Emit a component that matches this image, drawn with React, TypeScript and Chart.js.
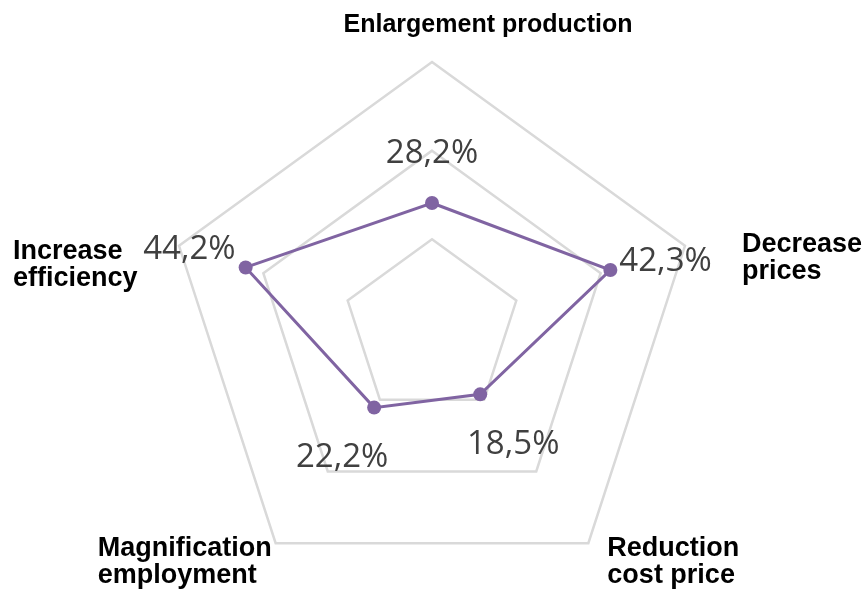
import { useEffect, useRef } from "react";
import { Chart, registerables } from "chart.js";

Chart.register(...registerables);

const categories: string[][] = [
  ["Enlargement production"],
  ["Decrease", "prices"],
  ["Reduction", "cost price"],
  ["Magnification", "employment"],
  ["Increase", "efficiency"],
];
const values = [28.2, 42.3, 18.5, 22.2, 44.2];
const valueLabels = ["28,2%", "42,3%", "18,5%", "22,2%", "44,2%"];
const scaleMin = 0;
const scaleMax = 60;
const scaleStep = 20;

// text placement (offsets from the axis end / data point)
const catLayout = [
  { align: "center", dx: 56, dy: -30, size: 25 },
  { align: "left", dx: 57, dy: 6, size: 27 },
  { align: "left", dx: 19, dy: 13, size: 27 },
  { align: "left", dx: -178, dy: 13, size: 27 },
  { align: "left", dx: -166, dy: 13, size: 27 },
];
const valLayout = [
  { align: "center", dx: 0, dy: -40 },
  { align: "left", dx: 9, dy: 1 },
  { align: "center", dx: 33, dy: 60 },
  { align: "center", dx: -32, dy: 59 },
  { align: "right", dx: -10, dy: -8 },
];

const labelPlugin = {
  id: "customLabels",
  afterDatasetsDraw(chart: any) {
    const ctx = chart.ctx;
    const scale = chart.scales.r;
    const meta = chart.getDatasetMeta(0);
    ctx.save();
    ctx.textBaseline = "alphabetic";
    ctx.fillStyle = "#000000";
    categories.forEach((lines, i) => {
      const p = scale.getPointPosition(i, scale.drawingArea);
      const o = catLayout[i];
      ctx.font = `bold ${o.size}px 'Liberation Sans', Arial, sans-serif`;
      ctx.textAlign = o.align;
      lines.forEach((line, j) => {
        ctx.fillText(line, p.x + o.dx, p.y + o.dy + j * 27);
      });
    });
    ctx.fillStyle = "#404040";
    ctx.font = "33px 'Open Sans', sans-serif";
    valueLabels.forEach((txt, i) => {
      const el = meta.data[i];
      const o = valLayout[i];
      ctx.textAlign = o.align;
      ctx.fillText(txt, el.x + o.dx, el.y + o.dy);
    });
    ctx.restore();
  },
};

export default function App() {
  const canvasRef = useRef<HTMLCanvasElement | null>(null);

  useEffect(() => {
    if (!canvasRef.current) return;
    const chart = new Chart(canvasRef.current, {
      type: "radar",
      data: {
        labels: categories,
        datasets: [
          {
            data: values,
            borderColor: "#8064a2",
            backgroundColor: "#8064a2",
            borderWidth: 3,
            pointRadius: 7,
            pointHoverRadius: 7,
            pointBackgroundColor: "#8064a2",
            pointBorderWidth: 0,
            fill: false,
            tension: 0,
          },
        ],
      },
      options: {
        animation: false,
        responsive: true,
        maintainAspectRatio: false,
        layout: { padding: { left: 0, right: 2, top: 62, bottom: 0 } },
        plugins: { legend: { display: false }, tooltip: { enabled: false } },
        scales: {
          r: {
            min: scaleMin,
            max: scaleMax,
            ticks: { stepSize: scaleStep, display: false },
            grid: { color: "#d9d9d9", lineWidth: 2.5, circular: false },
            angleLines: { display: false },
            pointLabels: { display: false },
          },
        },
      },
      plugins: [labelPlugin],
    });
    return () => chart.destroy();
  }, []);

  return (
    <div style={{ position: "fixed", left: 0, top: 0, width: 866, height: 594, background: "#ffffff" }}>
      <canvas ref={canvasRef} />
    </div>
  );
}
